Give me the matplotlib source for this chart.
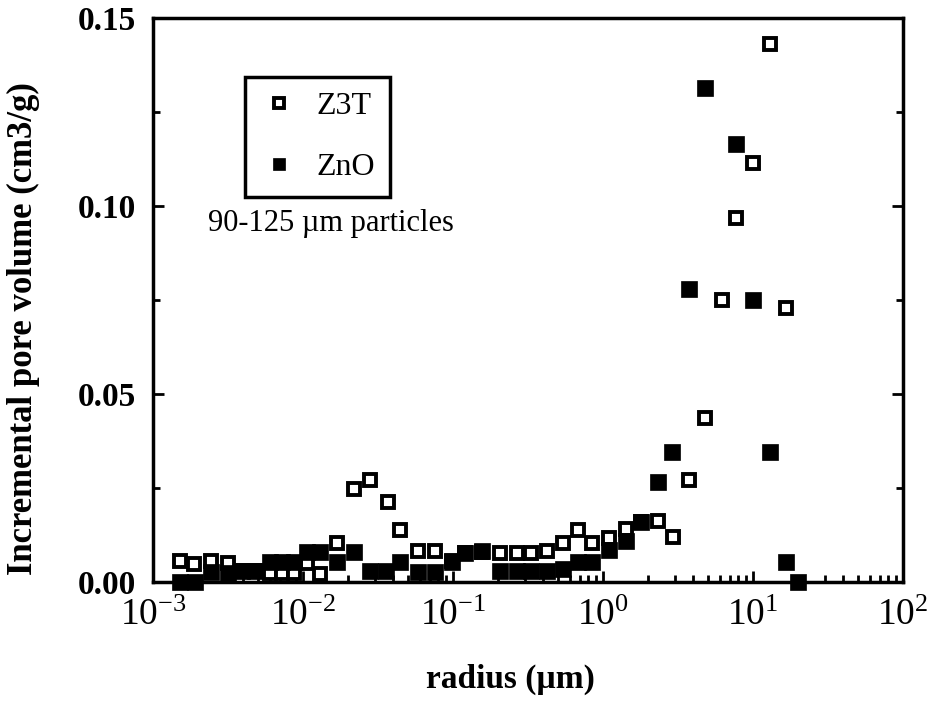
import matplotlib

matplotlib.use("Agg")
import matplotlib.pyplot as plt
from matplotlib.ticker import FixedLocator, FixedFormatter, LogLocator, NullFormatter

# Incremental pore volume (cm3/g) vs pore radius (um)
z3t_radius = [0.00151, 0.00188, 0.00244, 0.00316, 0.0039, 0.0048, 0.0060, 0.0072,
              0.0087, 0.0106, 0.0129, 0.0169, 0.0219, 0.028, 0.0369, 0.0443,
              0.0585, 0.0759, 0.0985, 0.12, 0.156, 0.206, 0.267, 0.331, 0.424,
              0.541, 0.681, 0.845, 1.10, 1.42, 1.79, 2.33, 2.93, 3.74, 4.79,
              6.21, 7.7, 10.0, 13.0, 16.6]
z3t_volume = [0.0056, 0.0048, 0.0056, 0.0050, 0.0030, 0.0030, 0.0024, 0.0024,
              0.0024, 0.0050, 0.0022, 0.0104, 0.0247, 0.0271, 0.0213, 0.0138,
              0.0082, 0.0082, 0.0055, 0.0078, 0.0080, 0.0076, 0.0078, 0.0078, 0.0082,
              0.0104, 0.0138, 0.0104, 0.0117, 0.0140, 0.0160, 0.0162, 0.0120, 0.0271, 0.0436,
              0.0750, 0.0968, 0.1114, 0.1430, 0.0729]

zno_radius = [0.00151, 0.0019, 0.00244, 0.00316, 0.0039, 0.0048, 0.0060, 0.0072,
              0.0087, 0.0106, 0.0129, 0.0169, 0.0219, 0.028, 0.036, 0.044,
              0.0585, 0.0759, 0.0985, 0.12, 0.156, 0.206, 0.267, 0.331, 0.424,
              0.541, 0.681, 0.845, 1.10, 1.42, 1.79, 2.33, 2.88, 3.74, 4.79,
              7.7, 10.0, 13.0, 16.6, 20.0]
zno_volume = [0.0, 0.0, 0.0027, 0.0024, 0.0029, 0.0029, 0.0053, 0.0053,
              0.0053, 0.0080, 0.0080, 0.0053, 0.0080, 0.0030, 0.0030, 0.0053,
              0.0027, 0.0027, 0.0053, 0.0077, 0.0082, 0.0030, 0.0030, 0.0030, 0.0030,
              0.0035, 0.0053, 0.0053, 0.0085, 0.0110, 0.0160, 0.0266, 0.0346, 0.0779, 0.1314,
              0.1165, 0.0750, 0.0346, 0.0053, 0.0]

x_ticks = [1e-3, 1e-2, 1e-1, 1e0, 1e1, 1e2]
x_tick_labels = [r"$\mathregular{10^{-3}}$", r"$\mathregular{10^{-2}}$",
                 r"$\mathregular{10^{-1}}$", r"$\mathregular{10^{0}}$",
                 r"$\mathregular{10^{1}}$", r"$\mathregular{10^{2}}$"]
y_ticks = [0.0, 0.05, 0.10, 0.15]
y_tick_labels = ["0.00", "0.05", "0.10", "0.15"]

plt.rcParams["font.family"] = ["Liberation Serif", "DejaVu Serif"]

fig = plt.figure(figsize=(9.37, 7.06), dpi=100)
ax = fig.add_axes([153 / 937, 1 - 582 / 706, 750 / 937, 564 / 706])

ax.plot(z3t_radius, z3t_volume, "s", ms=8.5, mew=2.8, mfc="white", mec="black",
        label="Z3T", clip_on=False, zorder=3)
ax.plot(zno_radius, zno_volume, "s", ms=11, mew=0.5, mfc="black", mec="black",
        label="ZnO", clip_on=False, zorder=3)

ax.set_xscale("log")
ax.set_xlim(1e-3, 1e2)
ax.set_ylim(0, 0.15)

ax.xaxis.set_major_locator(FixedLocator(x_ticks))
ax.xaxis.set_major_formatter(FixedFormatter(x_tick_labels))
ax.xaxis.set_minor_locator(LogLocator(base=10, subs=range(2, 10), numticks=20))
ax.xaxis.set_minor_formatter(NullFormatter())
ax.yaxis.set_major_locator(FixedLocator(y_ticks))
ax.yaxis.set_major_formatter(FixedFormatter(y_tick_labels))
ax.yaxis.set_minor_locator(FixedLocator([0.025, 0.075, 0.125]))

for s in ax.spines.values():
    s.set_linewidth(2.5)
ax.tick_params(which="both", direction="in", width=2, top=False, right=True)
ax.tick_params(which="major", length=8)
ax.tick_params(which="minor", length=5)
ax.tick_params(axis="x", which="major", labelsize=27, pad=12)
ax.tick_params(axis="y", which="major", labelsize=24, pad=12)
for t in ax.get_yticklabels():
    t.set_fontweight("bold")

ax.set_ylabel("Incremental pore volume (cm3/g)", fontsize=25, fontweight="bold")
ax.yaxis.set_label_coords(-0.15, 0.449)
ax.set_xlabel("radius (\u00b5m)", fontsize=24, fontweight="bold")
ax.xaxis.set_label_coords(0.476, -0.145)

leg = ax.legend(loc="upper left", bbox_to_anchor=(0.1227, 0.895), borderaxespad=0,
                fontsize=23, fancybox=False, framealpha=1, edgecolor="black",
                borderpad=0.45, handlelength=1.2, handletextpad=0.6, labelspacing=1.0,
                markerscale=0.85)
leg.get_frame().set_linewidth(2.5)

ax.text(0.073, 0.635, "90-125 \u00b5m particles", transform=ax.transAxes,
        fontsize=22, ha="left", va="center")

fig.savefig("out.png", dpi=100)
